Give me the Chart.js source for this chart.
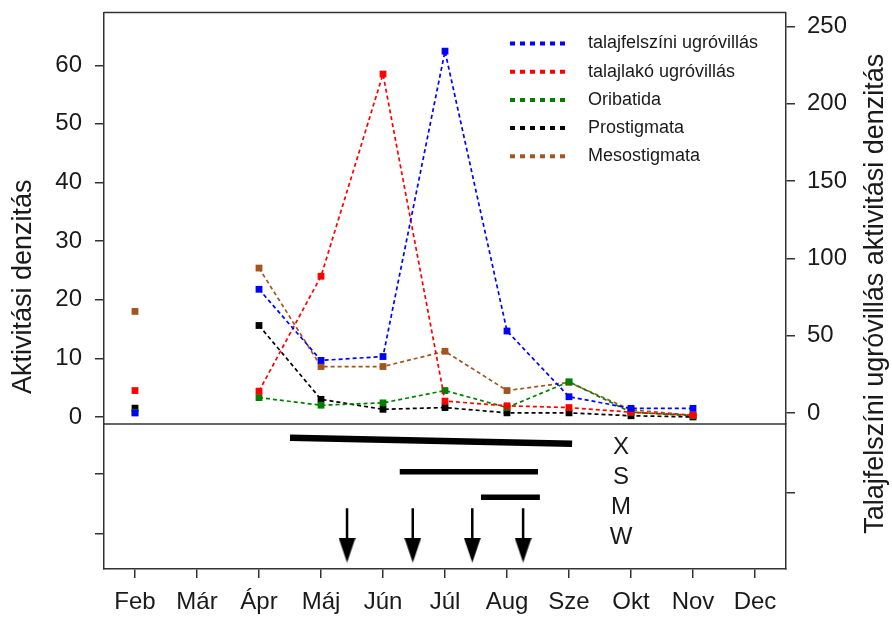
<!DOCTYPE html>
<html>
<head>
<meta charset="utf-8">
<script src="https://cdn.jsdelivr.net/npm/chart.js@4.4.1/dist/chart.umd.min.js"></script>
<style>
  html, body { margin: 0; padding: 0; background: #fff; }
  #wrap { width: 892px; height: 619px; }
</style>
</head>
<body>
<div id="wrap"><canvas id="chart"></canvas></div>
<script>
// months on the x axis (index 0 = Feb)
const months = ['Feb', 'Már', 'Ápr', 'Máj', 'Jún', 'Júl', 'Aug', 'Sze', 'Okt', 'Nov', 'Dec'];
const seriesNames = ['talajfelszíni ugróvillás', 'talajlakó ugróvillás', 'Oribatida', 'Prostigmata', 'Mesostigmata'];

// talajfelszíni ugróvillás is read on the right axis, the rest on the left one
const surfaceCollembola = [0, null, 80, 34, 36.5, 234, 53, 10.5, 3, 3, null];
const soilCollembola = [4.5, null, 4.4, 24, 58.5, 2.7, 1.9, 1.6, 0.8, 0.3, null];
const oribatida = [0.8, null, 3.3, 2.0, 2.4, 4.5, 1.6, 6.0, 0.8, 0.2, null];
const prostigmata = [1.5, null, 15.6, 3.0, 1.3, 1.6, 0.7, 0.7, 0.2, 0, null];
const mesostigmata = [18, null, 25.4, 8.6, 8.6, 11.2, 4.5, 5.9, 1.2, 0.3, null];

const leftTicks = [0, 10, 20, 30, 40, 50, 60];
const rightTicks = [0, 50, 100, 150, 200, 250];
const lowLeftTicks = [1, 3];
const lowRightTicks = [1];

// lower panel: periods X, S, M (month index from-to, level in panel units) and W arrows
const rowLabels = ['X', 'S', 'M', 'W'];
const rowLabelLevel = [3.86, 2.88, 1.89, 0.9];
const rowLabelMonth = 7.84;
const periodFrom = [2.5, 4.27, 5.58];
const periodTo = [7.05, 6.5, 6.53];
const periodLevelFrom = [4.19, 3.07, 2.22];
const periodLevelTo = [3.99, 3.07, 2.22];
const arrowMonths = [3.42, 4.48, 5.44, 6.26];
const arrowTop = 1.86;
const arrowHeadLevel = 0.475;

const colors = ['#0000ff', '#ff0000', '#008000', '#000000', '#a0561e'];
const FONT = '"Liberation Sans", Arial, sans-serif';
const INK = '#1a1a1a';

const toPoints = arr => arr.map((v, i) => ({ x: i, y: v }));

const topSeries = [surfaceCollembola, soilCollembola, oribatida, prostigmata, mesostigmata];
const datasets = topSeries.map((arr, i) => ({
  label: seriesNames[i],
  data: toPoints(arr),
  yAxisID: i === 0 ? 'yR' : 'y',
  borderColor: colors[i],
  backgroundColor: colors[i],
  borderWidth: 1.7,
  borderDash: [4, 3],
  pointStyle: 'rect',
  pointRadius: 4.8,
  pointBorderWidth: 0,
  spanGaps: false,
  clip: false
}));

// period bars
periodFrom.forEach((from, i) => {
  datasets.push({
    label: rowLabels[i],
    data: [{ x: from, y: periodLevelFrom[i] }, { x: periodTo[i], y: periodLevelTo[i] }],
    yAxisID: 'yLow',
    borderColor: '#000',
    borderWidth: i === 0 ? 6.5 : 5.5,
    pointRadius: 0,
    borderCapStyle: 'butt'
  });
});

// arrow head marker
const arrowHead = document.createElement('canvas');
arrowHead.width = 17;
arrowHead.height = 25;
const ah = arrowHead.getContext('2d');
ah.fillStyle = '#000';
ah.beginPath();
ah.moveTo(0, 0);
ah.lineTo(17, 0);
ah.lineTo(8.5, 25);
ah.closePath();
ah.fill();

arrowMonths.forEach(m => {
  datasets.push({
    label: 'W',
    data: [{ x: m, y: arrowTop }, { x: m, y: arrowHeadLevel }],
    yAxisID: 'yLow',
    borderColor: '#000',
    borderWidth: 2.5,
    pointRadius: [0, 10],
    pointStyle: ['circle', arrowHead]
  });
});

const tickSet = list => scale => { scale.ticks = list.map(v => ({ value: v })); };
const noPad = w => scale => {
  scale.width = w;
  scale.paddingTop = 0;
  scale.paddingBottom = 0;
};

const axisGrid = { drawOnChartArea: false, drawTicks: true, tickLength: 9, color: '#333', lineWidth: 1.5 };
const axisBorder = { display: true, color: '#333', width: 1.5 };
const tickFont = { family: FONT, size: 24 };

const decorations = {
  id: 'decorations',
  afterDraw(chart) {
    const { ctx, chartArea, scales } = chart;
    ctx.save();
    // frame top and panel separator
    ctx.strokeStyle = '#333';
    ctx.lineWidth = 1.5;
    ctx.beginPath();
    ctx.moveTo(chartArea.left, chartArea.top);
    ctx.lineTo(chartArea.right, chartArea.top);
    ctx.moveTo(chartArea.left, scales.y.bottom);
    ctx.lineTo(chartArea.right, scales.y.bottom);
    ctx.stroke();

    // legend
    ctx.font = '18px ' + FONT;
    ctx.textBaseline = 'middle';
    ctx.textAlign = 'left';
    seriesNames.forEach((name, i) => {
      const y = chartArea.top + 31 + i * 28.2;
      ctx.strokeStyle = colors[i];
      ctx.lineWidth = 4;
      ctx.setLineDash([5, 5]);
      ctx.beginPath();
      ctx.moveTo(chartArea.left + 406, y);
      ctx.lineTo(chartArea.left + 464, y);
      ctx.stroke();
      ctx.setLineDash([]);
      ctx.fillStyle = INK;
      ctx.fillText(name, chartArea.left + 484, y);
    });

    // row labels of the lower panel
    ctx.font = '24px ' + FONT;
    ctx.textAlign = 'center';
    rowLabels.forEach((t, i) => {
      ctx.fillText(t, scales.x.getPixelForValue(rowLabelMonth), scales.yLow.getPixelForValue(rowLabelLevel[i]));
    });

    // axis titles
    const midY = (chartArea.top + chartArea.bottom) / 2;
    ctx.font = '27px ' + FONT;
    ctx.save();
    ctx.translate(24, midY - 4);
    ctx.rotate(-Math.PI / 2);
    ctx.fillText('Aktivitási denzitás', 0, 0);
    ctx.restore();
    ctx.save();
    ctx.translate(876, midY + 3);
    ctx.rotate(-Math.PI / 2);
    ctx.fillText('Talajfelszíni ugróvillás aktivitási denzitás', 0, 0);
    ctx.restore();
    ctx.restore();
  }
};

new Chart(document.getElementById('chart'), {
  type: 'line',
  data: { datasets },
  options: {
    responsive: true,
    maintainAspectRatio: false,
    animation: false,
    layout: { padding: { left: 44, right: 46, top: 9, bottom: 0 } },
    plugins: { legend: { display: false }, tooltip: { enabled: false } },
    scales: {
      x: {
        type: 'linear',
        position: 'bottom',
        min: -0.5,
        max: 10.5,
        afterBuildTicks: tickSet(months.map((m, i) => i)),
        afterFit: scale => { scale.height = 50; scale.paddingLeft = 0; scale.paddingRight = 0; },
        ticks: { callback: v => months[v], font: tickFont, color: INK, padding: 10, maxRotation: 0, autoSkip: false },
        grid: axisGrid,
        border: axisBorder
      },
      y: {
        type: 'linear',
        position: 'left',
        stack: 'left',
        stackWeight: 414,
        weight: 1,
        min: -1.19,
        max: 69,
        afterBuildTicks: tickSet(leftTicks),
        afterFit: noPad(60),
        ticks: { font: tickFont, color: INK, padding: 13, autoSkip: false },
        grid: axisGrid,
        border: axisBorder
      },
      yLow: {
        type: 'linear',
        position: 'left',
        stack: 'left',
        stackWeight: 146,
        weight: 0,
        min: -0.15,
        max: 4.65,
        afterBuildTicks: tickSet(lowLeftTicks),
        afterFit: noPad(60),
        ticks: { callback: () => '', autoSkip: false },
        grid: axisGrid,
        border: axisBorder
      },
      yR: {
        type: 'linear',
        position: 'right',
        stack: 'right',
        stackWeight: 414,
        weight: 0,
        min: -7.07,
        max: 259,
        afterBuildTicks: tickSet(rightTicks),
        afterFit: noPad(60),
        ticks: { font: tickFont, color: INK, padding: 12, autoSkip: false },
        grid: axisGrid,
        border: axisBorder
      },
      yLowR: {
        type: 'linear',
        position: 'right',
        stack: 'right',
        stackWeight: 146,
        weight: 1,
        min: 0,
        max: 1.9,
        afterBuildTicks: tickSet(lowRightTicks),
        afterFit: noPad(60),
        ticks: { callback: () => '', autoSkip: false },
        grid: axisGrid,
        border: axisBorder
      }
    }
  },
  plugins: [decorations]
});
</script>
</body>
</html>
